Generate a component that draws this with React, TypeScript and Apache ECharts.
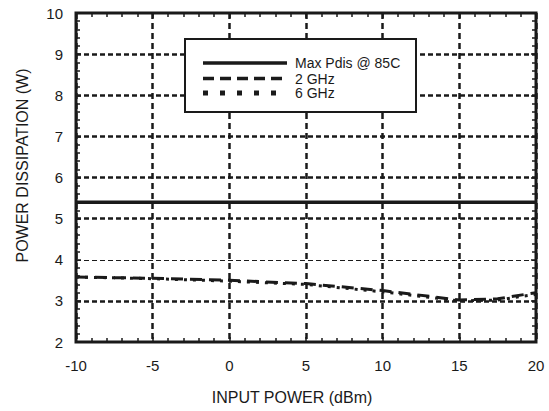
import React, { useEffect, useRef } from "react";
import * as echarts from "echarts";

const inputPower = [-10, -5, 0, 5, 10, 15, 17.5, 20];
const pd2GHz = [3.58, 3.55, 3.5, 3.42, 3.25, 3.02, 3.05, 3.2];
const pd6GHz = [3.58, 3.54, 3.48, 3.4, 3.22, 3.0, 3.02, 3.16];
const maxPdisX = [-10, 20];
const maxPdisY = [5.4, 5.4];
const gridYMajor = [3, 5, 6, 7, 8, 9];
const gridYMinor = [4];
const seriesNames = ["Max Pdis @ 85C", "2 GHz", "6 GHz"];

const FONT = "'Liberation Sans', Arial, sans-serif";
const INK = "#1a1a1a";

const legendDash: (number[] | null)[] = [null, [11, 6], [5, 12]];
const legendWidth = [3.5, 3.5, 5];

export default function App() {
  const ref = useRef<HTMLDivElement>(null);
  useEffect(() => {
    document.body.style.margin = "0";
    if (!ref.current) return;
    const chart = echarts.init(ref.current, null, { renderer: "svg" });
    const tickStyle = { color: INK, width: 1.5 };
    const hiddenAxisCommon = {
      axisLine: { show: false, onZero: false },
      axisLabel: { show: false },
      splitLine: { show: false },
      axisTick: { show: true, inside: true, length: 5, lineStyle: tickStyle },
      minorTick: { show: true, splitNumber: 5, length: 4, lineStyle: tickStyle },
    };
    const rowY = [63, 78.5, 93];
    const legendChildren: any[] = [
      {
        type: "rect",
        z: 100,
        shape: { x: 185, y: 39, width: 231, height: 73 },
        style: { fill: "#ffffff", stroke: INK, lineWidth: 2 },
      },
    ];
    seriesNames.forEach((n, i) => {
      legendChildren.push({
        type: "line",
        z: 101,
        shape: { x1: 203, y1: rowY[i], x2: 287, y2: rowY[i] },
        style: { stroke: INK, lineWidth: legendWidth[i], lineDash: legendDash[i] || undefined },
      });
      legendChildren.push({
        type: "text",
        z: 101,
        x: 295,
        y: rowY[i],
        style: { text: n, fill: INK, font: `14px ${FONT}`, verticalAlign: "middle", align: "left" },
      });
    });
    chart.setOption({
      animation: false,
      backgroundColor: "#ffffff",
      textStyle: { fontFamily: FONT, color: INK },
      grid: { left: 76, right: 13, top: 13, bottom: 69, show: true, borderColor: INK, borderWidth: 3, backgroundColor: "transparent" },
      graphic: { elements: legendChildren },
      xAxis: [
        {
          type: "value",
          min: -10,
          max: 20,
          interval: 5,
          position: "bottom",
          name: "INPUT POWER (dBm)",
          nameLocation: "middle",
          nameGap: 47,
          nameTextStyle: { fontFamily: FONT, fontSize: 16, color: INK, padding: [0, 28, 0, 0] },
          axisLine: { show: false, onZero: false },
          axisLabel: { margin: 16, fontFamily: FONT, fontSize: 15, color: INK },
          axisTick: { show: true, inside: true, length: 5, lineStyle: tickStyle },
          minorTick: { show: true, splitNumber: 5, length: 4, lineStyle: tickStyle },
          splitLine: { show: true, lineStyle: { color: INK, width: 2.5, type: [6, 4] } },
        },
        { type: "value", min: -10, max: 20, interval: 5, position: "top", ...hiddenAxisCommon },
      ],
      yAxis: [
        {
          type: "value",
          min: 2,
          max: 10,
          interval: 1,
          position: "left",
          name: "POWER DISSIPATION (W)",
          nameLocation: "middle",
          nameGap: 46,
          nameTextStyle: { fontFamily: FONT, fontSize: 16, color: INK, padding: [0, 0, 0, 24] },
          axisLine: { show: false, onZero: false },
          axisLabel: { margin: 13, fontFamily: FONT, fontSize: 15, color: INK },
          axisTick: { show: true, inside: true, length: 5, lineStyle: tickStyle },
          minorTick: { show: true, splitNumber: 5, length: 4, lineStyle: tickStyle },
          splitLine: { show: false },
        },
        { type: "value", min: 2, max: 10, interval: 1, position: "right", ...hiddenAxisCommon },
      ],
      series: [
        {
          name: seriesNames[0],
          type: "line",
          showSymbol: false,
          symbol: "none",
          color: INK,
          data: maxPdisX.map((x, i) => [x, maxPdisY[i]]),
          lineStyle: { color: INK, width: 3.5, type: "solid" },
          markLine: {
            silent: true,
            symbol: "none",
            label: { show: false },
            data: [
              ...gridYMajor.map((v) => ({ yAxis: v, lineStyle: { color: INK, width: 2.5, type: [5, 3] } })),
              ...gridYMinor.map((v) => ({ yAxis: v, lineStyle: { color: INK, width: 1.2, type: [5, 3] } })),
            ],
          },
          z: 3,
        },
        {
          name: seriesNames[1],
          type: "line",
          showSymbol: false,
          symbol: "none",
          color: INK,
          data: inputPower.map((x, i) => [x, pd2GHz[i]]),
          lineStyle: { color: INK, width: 3, type: [12, 7] },
          z: 4,
        },
        {
          name: seriesNames[2],
          type: "line",
          showSymbol: false,
          symbol: "none",
          color: INK,
          data: inputPower.map((x, i) => [x, pd6GHz[i]]),
          lineStyle: { color: INK, width: 3, type: [3, 6] },
          z: 4,
        },
      ],
    });
    return () => chart.dispose();
  }, []);
  return <div ref={ref} style={{ width: 549, height: 411 }} />;
}
